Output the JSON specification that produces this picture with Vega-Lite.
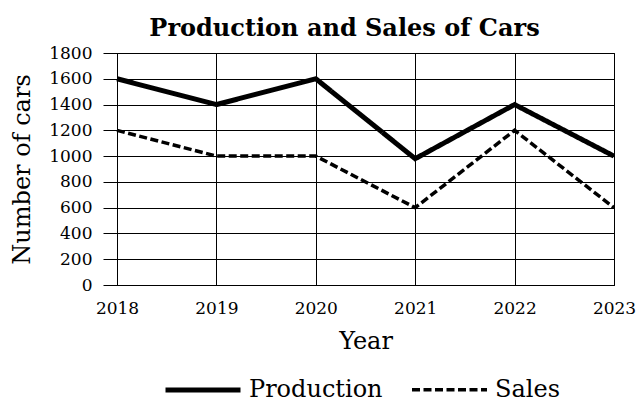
{
  "$schema": "https://vega.github.io/schema/vega-lite/v6.json",
  "width": 497,
  "height": 232,
  "autosize": "none",
  "padding": {"left": 117, "top": 53, "right": 23, "bottom": 117},
  "background": "white",
  "title": {
    "text": "Production and Sales of Cars",
    "font": "DejaVu Serif",
    "fontSize": 24,
    "fontWeight": "bold",
    "color": "black",
    "anchor": "middle",
    "dx": -21,
    "offset": 3
  },
  "data": {
    "values": [
      {"Year": "2018", "Series": "Production", "Cars": 1600},
      {"Year": "2019", "Series": "Production", "Cars": 1400},
      {"Year": "2020", "Series": "Production", "Cars": 1600},
      {"Year": "2021", "Series": "Production", "Cars": 980},
      {"Year": "2022", "Series": "Production", "Cars": 1400},
      {"Year": "2023", "Series": "Production", "Cars": 1000},
      {"Year": "2018", "Series": "Sales", "Cars": 1200},
      {"Year": "2019", "Series": "Sales", "Cars": 1000},
      {"Year": "2020", "Series": "Sales", "Cars": 1000},
      {"Year": "2021", "Series": "Sales", "Cars": 600},
      {"Year": "2022", "Series": "Sales", "Cars": 1200},
      {"Year": "2023", "Series": "Sales", "Cars": 600}
    ]
  },
  "config": {
    "view": {"stroke": "black", "strokeWidth": 1},
    "axis": {
      "labelFont": "DejaVu Serif",
      "titleFont": "DejaVu Serif",
      "labelColor": "black",
      "titleColor": "black",
      "domainColor": "black",
      "tickColor": "black",
      "gridColor": "black",
      "gridOpacity": 1,
      "gridWidth": 1
    }
  },
  "mark": {"type": "line", "color": "black", "strokeCap": "butt", "strokeJoin": "miter"},
  "encoding": {
    "x": {
      "field": "Year",
      "type": "ordinal",
      "scale": {"type": "point", "padding": 0},
      "axis": {
        "title": "Year",
        "labelAngle": 0,
        "labelFont": "DejaVu Serif",
        "labelFontSize": 17,
        "titleFont": "DejaVu Serif",
        "titleFontSize": 24,
        "titleFontWeight": "normal",
        "ticks": false,
        "labelPadding": 15,
        "titlePadding": 13,
        "grid": true,
        "domain": true
      }
    },
    "y": {
      "field": "Cars",
      "type": "quantitative",
      "scale": {"domain": [0, 1800], "nice": false},
      "axis": {
        "title": "Number of cars",
        "values": [0, 200, 400, 600, 800, 1000, 1200, 1400, 1600, 1800],
        "format": "d",
        "labelFont": "DejaVu Serif",
        "labelFontSize": 17,
        "titleFont": "DejaVu Serif",
        "titleFontSize": 24,
        "titleFontWeight": "normal",
        "tickSize": 14,
        "labelPadding": 11,
        "titlePadding": 14,
        "grid": true
      }
    },
    "detail": {"field": "Series"},
    "strokeDash": {
      "field": "Series",
      "type": "nominal",
      "scale": {"domain": ["Production", "Sales"], "range": [[1, 0], [8, 3.5]]},
      "legend": {
        "title": null,
        "orient": "none",
        "legendX": 46,
        "legendY": 297,
        "direction": "horizontal",
        "symbolType": "stroke",
        "symbolSize": 5625,
        "symbolStrokeColor": "black",
        "labelFont": "DejaVu Serif",
        "labelFontSize": 24,
        "labelColor": "black",
        "columnPadding": 22,
        "padding": 0,
        "labelOffset": 6
      }
    },
    "strokeWidth": {
      "field": "Series",
      "type": "nominal",
      "scale": {"domain": ["Production", "Sales"], "range": [5, 3.5]}
    }
  }
}
